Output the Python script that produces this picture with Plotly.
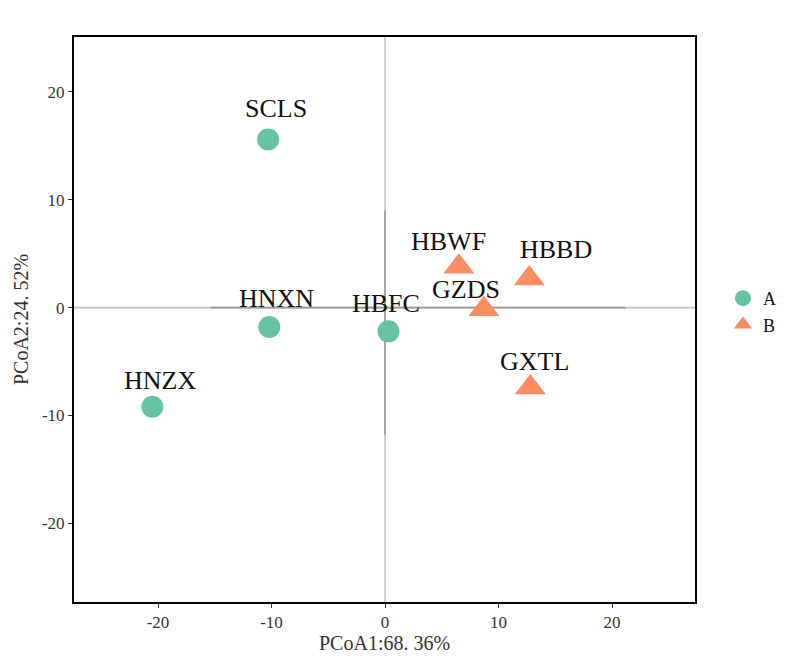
import plotly.graph_objects as go

# ---- data ----
samples_A = ["SCLS", "HNXN", "HNZX", "HBFC"]
pc1_A = [-10.3, -10.2, -20.5, 0.3]
pc2_A = [15.6, -1.8, -9.2, -2.2]

samples_B = ["HBWF", "HBBD", "GZDS", "GXTL"]
pc1_B = [6.5, 12.7, 8.7, 12.8]
pc2_B = [3.8, 2.7, -0.15, -7.4]

x_ticks = [-20, -10, 0, 10, 20]
y_ticks = [-20, -10, 0, 10, 20]
x_ticktext = ["-20", "-10", "0", "10", "20"]
y_ticktext = ["-20", "-10", "0", "10", "20"]

x_title = "PCoA1:68. 36%"
y_title = "PCoA2:24. 52%"

# label pixel offsets (repel-like placement)
label_shift = {
    "SCLS": (8, 31), "HNXN": (7, 29), "HNZX": (8, 26), "HBFC": (-2, 28),
    "HBWF": (-10, 25), "HBBD": (27, 29), "GZDS": (-18, 20), "GXTL": (4, 26),
}

FONT = "Liberation Serif, Times New Roman, serif"
colA = "#66C2A5"
colB = "#FC8D62"

fig = go.Figure()
fig.add_trace(go.Scatter(x=pc1_A, y=pc2_A, mode="markers", name="A",
                         marker=dict(symbol="circle", size=22, color=colA)))
fig.add_trace(go.Scatter(x=pc1_B, y=pc2_B, mode="markers", name="B",
                         marker=dict(symbol="triangle-up", size=27, color=colB)))

for names, xs, ys in [(samples_A, pc1_A, pc2_A), (samples_B, pc1_B, pc2_B)]:
    for n, x, y in zip(names, xs, ys):
        dx, dy = label_shift[n]
        fig.add_annotation(x=x, y=y, text=n, showarrow=False, xshift=dx, yshift=dy,
                           font=dict(family=FONT, size=26, color="#111111"))

# x-axis title placed close to tick labels
fig.add_annotation(xref="paper", yref="paper", x=0.5, y=0, yanchor="top", yshift=-28,
                   text=x_title, showarrow=False,
                   font=dict(family=FONT, size=20, color="#333333"))

# zero reference lines
fig.add_shape(type="line", xref="paper", yref="y", x0=0, x1=1, y0=0, y1=0,
              line=dict(color="#c4c4c4", width=1.6), layer="below")
fig.add_shape(type="line", xref="x", yref="paper", x0=0, x1=0, y0=0, y1=1,
              line=dict(color="#c4c4c4", width=1.6), layer="below")
fig.add_shape(type="line", xref="x", yref="y", x0=-15.4, x1=21.2, y0=0, y1=0,
              line=dict(color="#9a9a9a", width=1.6), layer="below")
fig.add_shape(type="line", xref="x", yref="y", x0=0, x1=0, y0=9.0, y1=-11.8,
              line=dict(color="#9a9a9a", width=1.6), layer="below")

axis_common = dict(showgrid=False, zeroline=False, showline=True, linecolor="black",
                   linewidth=2, mirror=True, ticks="outside", ticklen=4, tickwidth=1,
                   tickcolor="#333333",
                   tickfont=dict(family=FONT, size=17, color="#333333"))

fig.update_xaxes(range=[-27.4, 27.3], tickvals=x_ticks, ticktext=x_ticktext,
                 **axis_common)
fig.update_yaxes(range=[-27.3, 25.1], tickvals=y_ticks, ticktext=y_ticktext,
                 title=dict(text=y_title, font=dict(family=FONT, size=20, color="#333333"),
                            standoff=8),
                 **axis_common)

fig.update_layout(
    width=800, height=657,
    margin=dict(l=66, r=113, t=29, b=63),
    plot_bgcolor="white", paper_bgcolor="white",
    showlegend=True,
    legend=dict(x=1.045, y=0.57, xanchor="left", yanchor="top",
                font=dict(family=FONT, size=18, color="#111111"),
                tracegroupgap=2, itemwidth=30, bgcolor="rgba(0,0,0,0)"),
    font=dict(family=FONT),
)

fig.write_html("out.html")
